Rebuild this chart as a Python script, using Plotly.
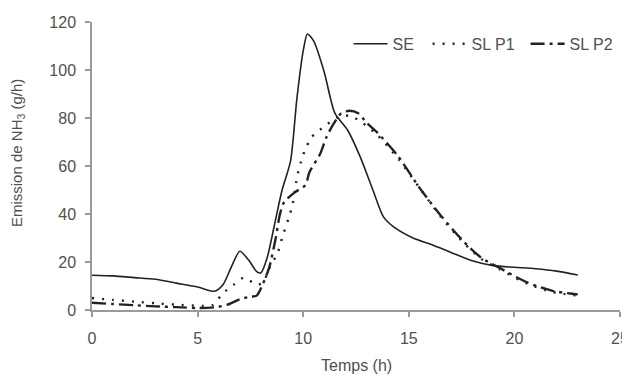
import plotly.graph_objects as go

# Data
se_x = [0, 1, 2, 3, 4, 5, 5.8, 6.2, 6.6, 7.0, 7.4, 7.8, 8.0, 8.3, 8.7, 9.0, 9.4, 9.7, 10.0, 10.2, 10.5, 11.0, 11.5, 12.1, 12.7, 13.3, 13.8, 14.3, 15.2, 16, 17, 18, 19, 20, 21, 22, 23]
se_y = [14.5, 14.2, 13.5, 12.8, 11.2, 9.6, 7.8, 10.5, 18, 24.5, 21, 16, 15.5, 22, 38, 50, 62, 88, 108, 115, 112, 99, 82, 75, 63.8, 50, 38.8, 34.5, 30, 27.5, 24, 20.5, 18.5, 17.8, 17.2, 16.2, 14.6]

p1_x = [0, 1, 2, 3, 4, 5, 5.7, 6.2, 6.7, 7.2, 7.8, 8.1, 8.4, 8.8, 9.0, 9.3, 9.5, 9.7, 9.9, 10.1, 10.4, 11.0, 11.6, 12.2, 12.8, 13.5, 14.5, 15.5, 16.5, 17.6, 18.4, 19.3, 20.6, 21.8, 23]
p1_y = [5, 4.2, 3.5, 2.8, 2.2, 1.8, 2, 7, 10.5, 13.5, 10.5, 11.5, 17.5, 24, 30, 38, 44, 55, 62, 67, 72, 76.5, 80, 81, 78, 73, 63, 51, 39, 28, 21.5, 17, 11, 7.5, 6]

p2_x = [0, 1, 2, 3, 4, 5, 5.9, 6.5, 7.0, 7.5, 7.8, 8.1, 8.4, 8.7, 8.9, 9.1, 9.6, 10.1, 10.3, 10.8, 11.1, 11.4, 11.8, 12.2, 12.6, 13.0, 13.5, 14.5, 15.5, 16.5, 17.6, 18.4, 19.3, 20.6, 21.8, 23]
p2_y = [3, 2.5, 2, 1.5, 1.2, 0.8, 1.2, 2.5, 4.5, 5.5, 6, 11, 18, 30, 40, 45, 49, 52, 57.5, 65, 72, 77, 82, 83, 82, 78, 74, 64, 51, 39.5, 28.5, 22, 17.5, 11.5, 8, 6.5]

x_ticks = [0, 5, 10, 15, 20, 25]
y_ticks = [0, 20, 40, 60, 80, 100, 120]
x_title = "Temps (h)"
y_title = "Emission de NH<sub>3</sub> (g/h)"

ink = "#222222"
grey = "#505050"
axis_col = "#9a9a9a"
FONT = "Liberation Sans, Arial, sans-serif"

fig = go.Figure()
fig.add_trace(go.Scatter(x=se_x, y=se_y, mode="lines", name="SE", legendwidth=30,
                         line=dict(color=ink, width=1.6, shape="spline", smoothing=0.7)))
fig.add_trace(go.Scatter(x=p1_x, y=p1_y, mode="lines", name="SL P1", legendwidth=49,
                         line=dict(color=ink, width=2.4, dash="2px,8px", shape="spline", smoothing=0.7)))
fig.add_trace(go.Scatter(x=p2_x, y=p2_y, mode="lines", name="SL P2", legendwidth=53,
                         line=dict(color=ink, width=2.4, dash="14px,5px,3px,5px", shape="spline", smoothing=0.7)))

# The page body adds an 8 px margin, so the figure is sized 8 px smaller
fig.update_layout(
    width=622, height=370,
    margin=dict(l=84, r=10, t=14, b=68, autoexpand=False),
    paper_bgcolor="white", plot_bgcolor="white",
    font=dict(family=FONT, size=16, color=grey),
    showlegend=True,
    legend=dict(orientation="h", x=0.486, xanchor="left", y=0.924, yanchor="middle",
                font=dict(size=16, color=grey), bgcolor="rgba(0,0,0,0)",
                itemwidth=34, tracegroupgap=0),
    xaxis=dict(range=[0, 25], tickvals=x_ticks, showgrid=False, zeroline=False,
               showline=True, linecolor=axis_col, linewidth=1.5,
               ticks="outside", ticklen=5, tickcolor=axis_col, tickwidth=1.5,
               ticklabelstandoff=8, automargin=False,
               tickfont=dict(size=16, color=grey)),
    yaxis=dict(range=[0, 120], tickvals=y_ticks, showgrid=False, zeroline=False,
               showline=True, linecolor=axis_col, linewidth=1.5,
               ticks="outside", ticklen=5, tickcolor=axis_col, tickwidth=1.5,
               ticklabelstandoff=6, automargin=False,
               tickfont=dict(size=16, color=grey)),
    annotations=[
        dict(text=x_title, xref="paper", yref="paper", x=0.5, y=-0.194,
             xanchor="center", yanchor="middle", showarrow=False,
             font=dict(size=16, color=grey, family=FONT)),
        dict(text=y_title, xref="paper", yref="paper", x=-0.142, y=0.545,
             xanchor="center", yanchor="middle", showarrow=False, textangle=-90,
             font=dict(size=15, color=grey, family=FONT)),
    ],
)

fig.write_html("out.html")
